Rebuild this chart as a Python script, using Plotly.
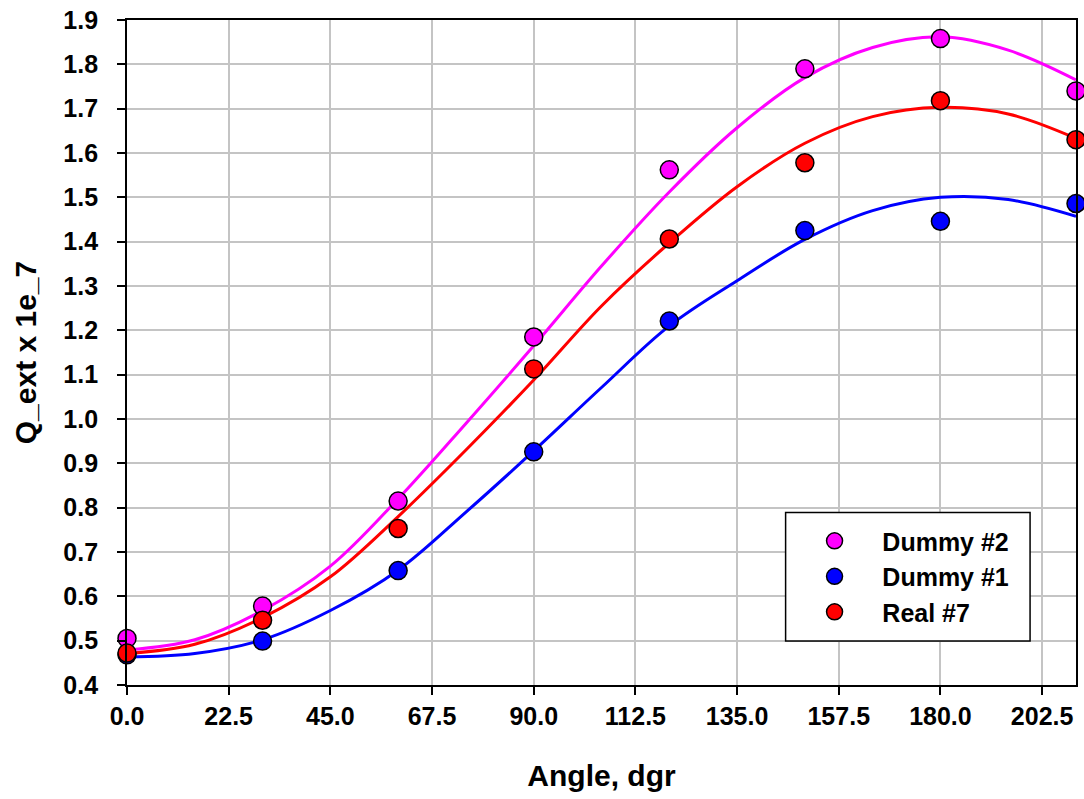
import plotly.graph_objects as go

# measured points
angles = [0, 30, 60, 90, 120, 150, 180, 210]
dummy2 = [0.505, 0.578, 0.815, 1.185, 1.562, 1.790, 1.858, 1.740]
dummy1 = [0.468, 0.499, 0.658, 0.926, 1.221, 1.425, 1.446, 1.486]
real7 = [0.472, 0.546, 0.753, 1.113, 1.406, 1.578, 1.718, 1.630]

# fitted curves
fit_angles = [0, 15, 30, 45, 60, 75, 90, 105, 120, 135, 150, 165, 180, 195, 210]
fit_d2 = [0.479, 0.502, 0.568, 0.668, 0.820, 0.990, 1.165, 1.345, 1.512, 1.657, 1.770, 1.838, 1.862, 1.832, 1.765]
fit_d1 = [0.463, 0.471, 0.502, 0.568, 0.659, 0.790, 0.928, 1.071, 1.210, 1.312, 1.405, 1.470, 1.500, 1.495, 1.457]
fit_r7 = [0.471, 0.492, 0.552, 0.644, 0.780, 0.930, 1.088, 1.255, 1.397, 1.524, 1.622, 1.682, 1.703, 1.688, 1.633]

x_ticks = [0, 22.5, 45, 67.5, 90, 112.5, 135, 157.5, 180, 202.5]

FONT = "Liberation Sans, Arial, sans-serif"
C_MAG, C_BLUE, C_RED = "#FF00FF", "#0000FF", "#FF0000"
NBSP = "\u00a0"

fig = go.Figure()
for ys, c in [(fit_d2, C_MAG), (fit_d1, C_BLUE), (fit_r7, C_RED)]:
    fig.add_trace(go.Scatter(x=fit_angles, y=ys, mode="lines",
                             line=dict(color=c, width=3, shape="spline", smoothing=1.0),
                             showlegend=False, hoverinfo="skip"))

for ys, c, name in [(dummy2, C_MAG, "Dummy #2"), (dummy1, C_BLUE, "Dummy #1"), (real7, C_RED, "Real #7")]:
    fig.add_trace(go.Scatter(x=angles, y=ys, mode="markers", name=NBSP * 4 + name,
                             marker=dict(color=c, size=18, line=dict(color="black", width=1.5)),
                             cliponaxis=False))

# legend frame
fig.add_shape(type="rect", xref="paper", yref="paper",
              x0=0.694, x1=0.9516, y0=0.066, y1=0.2594,
              line=dict(color="black", width=1.5), fillcolor="white", layer="above")

fig.update_layout(
    width=1084, height=799,
    margin=dict(l=127, r=6, t=18, b=114),
    paper_bgcolor="white", plot_bgcolor="white",
    font=dict(family=FONT, color="black"),
    showlegend=True,
    legend=dict(x=0.7245, y=0.251, xanchor="left", yanchor="top",
                bgcolor="rgba(0,0,0,0)", borderwidth=0,
                font=dict(family=FONT, size=25, color="black", weight="bold"),
                itemsizing="trace", tracegroupgap=0),
)

fig.update_xaxes(
    range=[0, 210], tickmode="array", tickvals=x_ticks,
    ticktext=[f"{v:.1f}" for v in x_ticks],
    showgrid=True, gridcolor="#c4c4c4", gridwidth=2,
    showline=True, linecolor="black", linewidth=2, mirror=True,
    ticks="outside", ticklen=8, tickwidth=2, tickcolor="black",
    tickfont=dict(family=FONT, size=25, color="black", weight="bold"),
    title=dict(text="Angle, dgr", font=dict(family=FONT, size=30, color="black", weight="bold"), standoff=36),
    zeroline=False,
)
fig.update_yaxes(
    range=[0.4, 1.9], dtick=0.1, tick0=0.4, tickformat=".1f",
    ticksuffix=NBSP * 2,
    showgrid=True, gridcolor="#c4c4c4", gridwidth=2,
    showline=True, linecolor="black", linewidth=2, mirror=True,
    ticks="outside", ticklen=8, tickwidth=2, tickcolor="black",
    tickfont=dict(family=FONT, size=25, color="black", weight="bold"),
    title=dict(text="Q_ext x 1e_7", font=dict(family=FONT, size=30, color="black", weight="bold"), standoff=18),
    zeroline=False,
)

fig.write_html("out.html")
